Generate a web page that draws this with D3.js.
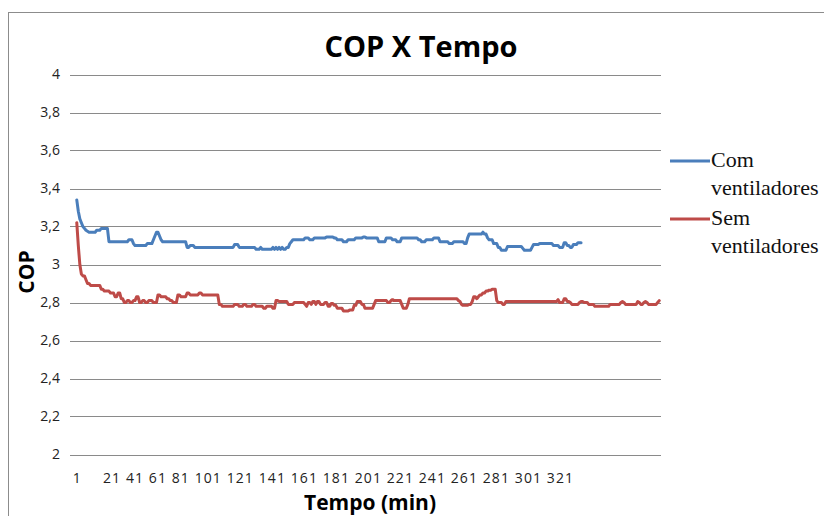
<!DOCTYPE html>
<html>
<head>
<meta charset="utf-8">
<script src="https://cdn.jsdelivr.net/npm/d3@7"></script>
<style>
  body { margin: 0; background: #fff; }
  svg { display: block; }
</style>
</head>
<body>
<div id="chart"></div>
<script>

// COP (coefficient of performance), one value per minute
let comVentiladores = [
    3.34, 3.28, 3.24, 3.22, 3.2, 3.19, 3.18, 3.175, 3.17, 3.17,
    3.17, 3.17, 3.17, 3.18, 3.18, 3.18, 3.19, 3.19, 3.19, 3.19,
    3.19, 3.12, 3.12, 3.12, 3.12, 3.12, 3.12, 3.12, 3.12, 3.12,
    3.12, 3.12, 3.12, 3.12, 3.13, 3.13, 3.13, 3.11, 3.1, 3.1,
    3.1, 3.1, 3.1, 3.1, 3.1, 3.1, 3.11, 3.11, 3.11, 3.11,
    3.13, 3.15, 3.17, 3.17, 3.15, 3.13, 3.12, 3.12, 3.12, 3.12,
    3.12, 3.12, 3.12, 3.12, 3.12, 3.12, 3.12, 3.12, 3.12, 3.12,
    3.12, 3.12, 3.09, 3.09, 3.1, 3.1, 3.1, 3.09, 3.09, 3.09,
    3.09, 3.09, 3.09, 3.09, 3.09, 3.09, 3.09, 3.09, 3.09, 3.09,
    3.09, 3.09, 3.09, 3.09, 3.09, 3.09, 3.09, 3.09, 3.09, 3.09,
    3.09, 3.09, 3.09, 3.105, 3.105, 3.105, 3.09, 3.09, 3.09, 3.09,
    3.09, 3.09, 3.09, 3.09, 3.09, 3.09, 3.09, 3.08, 3.08, 3.08,
    3.09, 3.08, 3.08, 3.08, 3.08, 3.08, 3.08, 3.08, 3.09, 3.08,
    3.09, 3.08, 3.09, 3.08, 3.09, 3.08, 3.08, 3.09, 3.09, 3.11,
    3.12, 3.13, 3.13, 3.13, 3.13, 3.13, 3.13, 3.13, 3.13, 3.14,
    3.14, 3.14, 3.13, 3.13, 3.13, 3.14, 3.14, 3.14, 3.14, 3.14,
    3.14, 3.14, 3.14, 3.145, 3.145, 3.145, 3.145, 3.145, 3.14, 3.14,
    3.13, 3.13, 3.13, 3.13, 3.12, 3.12, 3.12, 3.13, 3.13, 3.13,
    3.13, 3.13, 3.14, 3.14, 3.14, 3.14, 3.14, 3.145, 3.145, 3.14,
    3.14, 3.14, 3.14, 3.14, 3.14, 3.14, 3.14, 3.12, 3.12, 3.12,
    3.12, 3.12, 3.14, 3.14, 3.14, 3.14, 3.13, 3.13, 3.13, 3.12,
    3.12, 3.12, 3.14, 3.14, 3.14, 3.14, 3.14, 3.14, 3.14, 3.14,
    3.14, 3.14, 3.14, 3.13, 3.13, 3.12, 3.12, 3.12, 3.13, 3.13,
    3.13, 3.13, 3.13, 3.14, 3.14, 3.14, 3.14, 3.12, 3.12, 3.12,
    3.12, 3.12, 3.12, 3.11, 3.11, 3.11, 3.12, 3.12, 3.12, 3.12,
    3.12, 3.12, 3.12, 3.11, 3.11, 3.14, 3.16, 3.16, 3.16, 3.16,
    3.16, 3.16, 3.16, 3.16, 3.16, 3.17, 3.16, 3.16, 3.14, 3.13,
    3.13, 3.13, 3.11, 3.11, 3.11, 3.09, 3.09, 3.075, 3.075, 3.075,
    3.075, 3.095, 3.095, 3.095, 3.095, 3.095, 3.095, 3.095, 3.095, 3.095,
    3.095, 3.085, 3.075, 3.075, 3.075, 3.075, 3.075, 3.09, 3.105, 3.105,
    3.105, 3.105, 3.11, 3.11, 3.11, 3.11, 3.11, 3.11, 3.11, 3.11,
    3.11, 3.1, 3.1, 3.1, 3.1, 3.09, 3.09, 3.09, 3.115, 3.115,
    3.1, 3.1, 3.09, 3.09, 3.105, 3.105, 3.105, 3.115, 3.115, 3.115
];

let semVentiladores = [
    3.22, 3.1, 3.0, 2.95, 2.94, 2.94, 2.92, 2.9, 2.9, 2.89,
    2.89, 2.89, 2.89, 2.89, 2.89, 2.89, 2.87, 2.87, 2.86, 2.86,
    2.86, 2.86, 2.85, 2.85, 2.85, 2.83, 2.83, 2.85, 2.85, 2.82,
    2.82, 2.8, 2.8, 2.81, 2.81, 2.8, 2.8, 2.81, 2.81, 2.83,
    2.83, 2.8, 2.8, 2.81, 2.81, 2.8, 2.8, 2.81, 2.81, 2.81,
    2.8, 2.8, 2.8, 2.84, 2.84, 2.83, 2.83, 2.83, 2.83, 2.82,
    2.82, 2.81, 2.81, 2.8, 2.8, 2.8, 2.84, 2.84, 2.83, 2.83,
    2.83, 2.83, 2.85, 2.85, 2.84, 2.84, 2.84, 2.84, 2.84, 2.84,
    2.85, 2.85, 2.84, 2.84, 2.84, 2.84, 2.84, 2.84, 2.84, 2.84,
    2.84, 2.84, 2.84, 2.79, 2.79, 2.78, 2.78, 2.78, 2.78, 2.78,
    2.78, 2.78, 2.78, 2.79, 2.79, 2.79, 2.78, 2.78, 2.78, 2.79,
    2.79, 2.78, 2.78, 2.78, 2.78, 2.79, 2.79, 2.78, 2.78, 2.78,
    2.78, 2.78, 2.77, 2.77, 2.78, 2.78, 2.78, 2.78, 2.77, 2.77,
    2.81, 2.81, 2.805, 2.805, 2.805, 2.805, 2.805, 2.805, 2.79, 2.79,
    2.79, 2.79, 2.8, 2.8, 2.8, 2.8, 2.8, 2.8, 2.8, 2.79,
    2.78, 2.8, 2.8, 2.79, 2.805, 2.805, 2.79, 2.805, 2.805, 2.79,
    2.79, 2.79, 2.8, 2.8, 2.78, 2.78, 2.795, 2.795, 2.785, 2.785,
    2.77, 2.77, 2.77, 2.77, 2.755, 2.755, 2.755, 2.755, 2.76, 2.76,
    2.76, 2.785, 2.785, 2.805, 2.805, 2.805, 2.79, 2.79, 2.77, 2.77,
    2.77, 2.77, 2.77, 2.77, 2.79, 2.81, 2.81, 2.81, 2.81, 2.81,
    2.81, 2.81, 2.81, 2.8, 2.8, 2.81, 2.815, 2.81, 2.81, 2.81,
    2.81, 2.81, 2.79, 2.77, 2.77, 2.77, 2.79, 2.82, 2.82, 2.82,
    2.82, 2.82, 2.82, 2.82, 2.82, 2.82, 2.82, 2.82, 2.82, 2.82,
    2.82, 2.82, 2.82, 2.82, 2.82, 2.82, 2.82, 2.82, 2.82, 2.82,
    2.82, 2.82, 2.82, 2.82, 2.82, 2.82, 2.82, 2.82, 2.82, 2.81,
    2.805, 2.79, 2.785, 2.785, 2.785, 2.785, 2.79, 2.79, 2.805, 2.83,
    2.83, 2.82, 2.83, 2.84, 2.84, 2.85, 2.85, 2.86, 2.86, 2.865,
    2.865, 2.87, 2.87, 2.87, 2.81, 2.8, 2.8, 2.8, 2.79, 2.79,
    2.805, 2.805, 2.805, 2.805, 2.805, 2.805, 2.805, 2.805, 2.805, 2.805,
    2.805, 2.805, 2.805, 2.805, 2.805, 2.805, 2.805, 2.805, 2.805, 2.805,
    2.805, 2.805, 2.805, 2.805, 2.805, 2.805, 2.805, 2.805, 2.805, 2.805,
    2.805, 2.805, 2.805, 2.805, 2.815, 2.8, 2.8, 2.8, 2.82, 2.82,
    2.805, 2.805, 2.8, 2.79, 2.79, 2.79, 2.79, 2.79, 2.8, 2.805,
    2.805, 2.8, 2.8, 2.8, 2.79, 2.79, 2.79, 2.79, 2.78, 2.78,
    2.78, 2.78, 2.78, 2.78, 2.78, 2.78, 2.78, 2.78, 2.79, 2.79,
    2.79, 2.79, 2.79, 2.79, 2.79, 2.8, 2.805, 2.8, 2.79, 2.79,
    2.79, 2.79, 2.79, 2.79, 2.79, 2.79, 2.805, 2.8, 2.79, 2.79,
    2.8, 2.805, 2.8, 2.79, 2.79, 2.79, 2.79, 2.79, 2.79, 2.8, 2.81
];

let seriesNames = [["Com", "ventiladores"], ["Sem", "ventiladores"]];
let seriesColors = ["#4a7ebb", "#be4b48"];
let yTicks = [2, 2.2, 2.4, 2.6, 2.8, 3, 3.2, 3.4, 3.6, 3.8, 4];
let xTickLabels = [1, 21, 41, 61, 81, 101, 121, 141, 161, 181, 201, 221, 241, 261, 281, 301, 321];

let chartTitle = "COP X Tempo";
let xTitle = "Tempo (min)";
let yTitle = "COP";

let width = 824;
let height = 516;
let plot = { left: 76, right: 660, top: 74.5, bottom: 454.5 };

let svg = d3.select("#chart")
            .append("svg")
            .attr("width", width)
            .attr("height", height);

// outer chart frame (only top and left edges are inside the picture)
svg.append("rect")
   .attr("x", 8.5)
   .attr("y", 12.5)
   .attr("width", 900)
   .attr("height", 600)
   .attr("fill", "none")
   .attr("stroke", "#8c8c8c");

let nCats = Math.max(comVentiladores.length, semVentiladores.length);

let x = d3.scaleLinear()
          .domain([0.5, nCats + 0.5])
          .range([plot.left, plot.right]);

let y = d3.scaleLinear()
          .domain([2, 4])
          .range([plot.bottom, plot.top]);

// gridlines + little outside tick marks
svg.append("g")
   .selectAll("line")
   .data(yTicks)
   .enter()
   .append("line")
   .attr("x1", plot.left - 6)
   .attr("x2", plot.right + 1)
   .attr("y1", function(d) { return Math.round(y(d)) + 0.5; })
   .attr("y2", function(d) { return Math.round(y(d)) + 0.5; })
   .attr("stroke", "#8a8a8a")
   .attr("stroke-width", 1);

svg.append("g")
   .selectAll("text")
   .data(yTicks)
   .enter()
   .append("text")
   .attr("x", 60)
   .attr("y", function(d) { return y(d); })
   .attr("dy", "0.35em")
   .attr("text-anchor", "end")
   .style("font-family", "'Open Sans', sans-serif")
   .style("font-size", "14px")
   .style("fill", "#222")
   .text(function(d) { return d3.format(".1f")(d).replace(".0", "").replace(".", ","); });

// x tick labels: first one on its category, the rest packed as one run like the original
let tickFont = "'Open Sans', sans-serif";

svg.append("text")
   .attr("x", x(xTickLabels[0]))
   .attr("y", 483)
   .attr("text-anchor", "middle")
   .style("font-family", tickFont)
   .style("font-size", "14px")
   .style("fill", "#222")
   .text(xTickLabels[0]);

svg.append("text")
   .attr("x", 103)
   .attr("y", 483)
   .attr("textLength", 470)
   .attr("lengthAdjust", "spacing")
   .style("font-family", tickFont)
   .style("font-size", "14px")
   .style("fill", "#222")
   .text(xTickLabels.slice(1).join(" "));

let line = d3.line()
             .x(function(d, i) { return x(i + 1); })
             .y(function(d) { return y(d); });

[comVentiladores, semVentiladores].forEach(function(values, k) {
    svg.append("path")
       .datum(values)
       .attr("d", line)
       .attr("fill", "none")
       .attr("stroke", seriesColors[k])
       .attr("stroke-width", 3)
       .attr("stroke-linejoin", "round")
       .attr("stroke-linecap", "round");
});

// titles
svg.append("text")
   .attr("x", 421)
   .attr("y", 57)
   .attr("text-anchor", "middle")
   .style("font-family", "'Open Sans', sans-serif")
   .style("font-weight", "bold")
   .style("font-size", "29px")
   .text(chartTitle);

svg.append("text")
   .attr("x", 370)
   .attr("y", 510)
   .attr("text-anchor", "middle")
   .style("font-family", "'Open Sans', sans-serif")
   .style("font-weight", "bold")
   .style("font-size", "21px")
   .text(xTitle);

svg.append("text")
   .attr("transform", "translate(34,272) rotate(-90)")
   .attr("text-anchor", "middle")
   .style("font-family", "'Open Sans', sans-serif")
   .style("font-weight", "bold")
   .style("font-size", "21px")
   .text(yTitle);

// legend
let legendRows = [161, 219];

let legend = svg.append("g")
                .selectAll("g")
                .data(seriesNames)
                .enter()
                .append("g")
                .attr("transform", function(d, i) { return "translate(670," + legendRows[i] + ")"; });

legend.append("line")
      .attr("x1", 0)
      .attr("x2", 40)
      .attr("y1", 0)
      .attr("y2", 0)
      .attr("stroke", function(d, i) { return seriesColors[i]; })
      .attr("stroke-width", 3);

legend.append("text")
      .attr("x", 41)
      .attr("y", 6)
      .style("font-family", "'Liberation Serif', 'Times New Roman', serif")
      .style("font-size", "22px")
      .style("fill", "#111")
      .selectAll("tspan")
      .data(function(d) { return d; })
      .enter()
      .append("tspan")
      .attr("x", 41)
      .attr("dy", function(d, i) { return i === 0 ? 0 : 28; })
      .text(function(d) { return d; });

</script>
</body>
</html>
